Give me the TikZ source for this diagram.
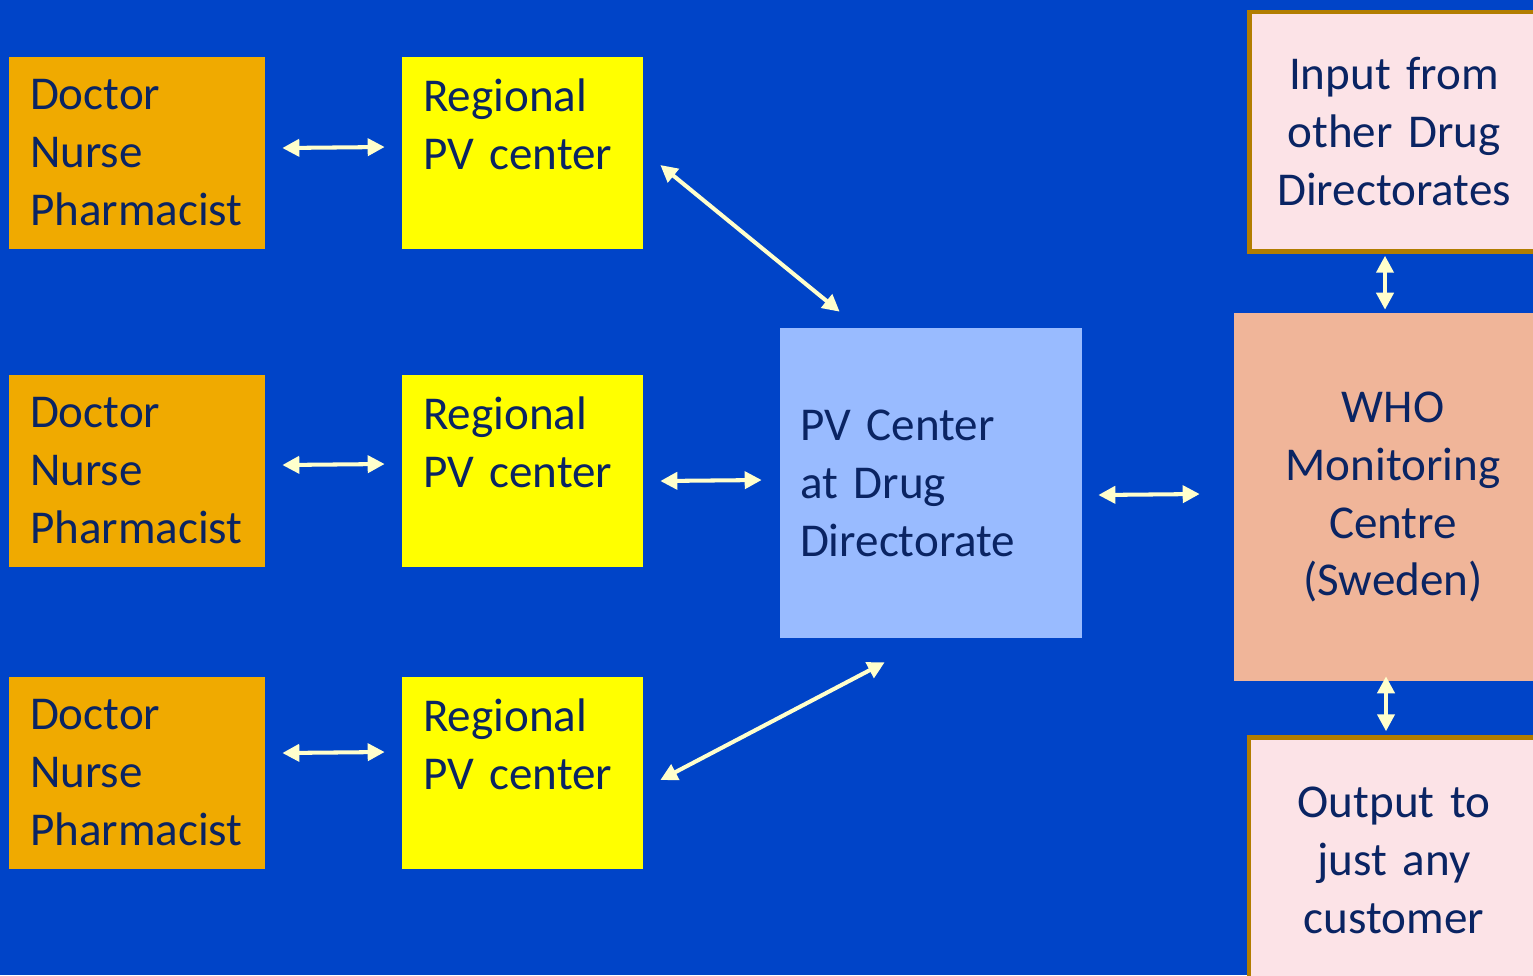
\documentclass[tikz,border=0pt]{standalone}
\usepackage{fontspec}
\setmainfont{Carlito}[WordSpace=0.75]
\usetikzlibrary{arrows.meta,calc}
\definecolor{slidebg}{HTML}{0044C8}
\definecolor{staffbg}{HTML}{F0AA00}
\definecolor{regionbg}{HTML}{FFFF00}
\definecolor{centerbg}{HTML}{99BBFF}
\definecolor{whobg}{HTML}{F0B599}
\definecolor{iobg}{HTML}{FCE3E7}
\definecolor{ioborder}{HTML}{B27D00}
\definecolor{navy}{HTML}{0A2463}
\definecolor{linkcol}{HTML}{FFFFCC}
\begin{document}
\begin{tikzpicture}[x=0.02cm,y=-0.02cm,
  every node/.style={font=\fontsize{26.8}{33}\selectfont, text=navy, inner sep=0pt},
  staff/.style={fill=staffbg, minimum width=5.12cm, minimum height=3.84cm, text width=4.28cm, align=left},
  region/.style={fill=regionbg, minimum width=4.82cm, minimum height=3.84cm, text width=3.98cm, align=left},
  link/.style={draw=linkcol, line width=2.3pt, {Triangle[length=0.34cm,width=0.34cm]}-{Triangle[length=0.34cm,width=0.34cm]}}
]
\clip (0,0) rectangle (1533,975);
\fill[slidebg] (0,0) rectangle (1533,975);

% reporters and regional centers
\node[staff] (doc1) at (137,153) {Doctor\\Nurse\\Pharmacist};
\node[staff] (doc2) at (137,471) {Doctor\\Nurse\\Pharmacist};
\node[staff] (doc3) at (137,773) {Doctor\\Nurse\\Pharmacist};
\node[region] (reg1) at (522.5,153) {Regional\\PV center\\\vphantom{Pharmacist}};
\node[region] (reg2) at (522.5,471) {Regional\\PV center\\\vphantom{Pharmacist}};
\node[region] (reg3) at (522.5,773) {Regional\\PV center\\\vphantom{Pharmacist}};

% national center
\node[fill=centerbg, minimum width=6.04cm, minimum height=6.2cm, text width=5.24cm, align=left] (pvc) at (931,483)
  {PV Center\\at Drug\\Directorate};

% WHO and its input / output
\node[fill=whobg, minimum width=6.36cm, minimum height=7.36cm, text width=5.8cm, align=center] (who) at (1393,497)
  {WHO\\Monitoring\\Centre\\(Sweden)};
\node[fill=iobg, draw=ioborder, line width=0.09cm, minimum width=5.79cm, minimum height=4.79cm, text width=5.5cm, align=center] (input) at (1394,131.75)
  {Input from\\other Drug\\Directorates};
\node[fill=iobg, draw=ioborder, line width=0.09cm, minimum width=5.8cm, minimum height=4.9cm, text width=5.5cm, align=center] (output) at (1394,860)
  {Output to\\just any\\customer};

% connectors
\draw[link] ($(doc1.east)+(17,-5)$) -- ($(reg1.west)+(-17,-6)$);
\draw[link] ($(doc2.east)+(17,-6)$) -- ($(reg2.west)+(-17,-7)$);
\draw[link] ($(doc3.east)+(17,-20)$) -- ($(reg3.west)+(-17,-21)$);
\draw[link] ($(reg1.east)+(17,12)$) -- ($(pvc.north west)+(60,-16)$);
\draw[link] ($(reg2.east)+(17,10)$) -- ($(pvc.west)+(-18,-3)$);
\draw[link] ($(reg3.east)+(17,7)$) -- ($(pvc.south west)+(105,24)$);
\draw[link] ($(pvc.east)+(16,12)$) -- ($(who.west)+(-34,-3)$);
\draw[link] ($(input.south)+(-9,2)$) -- ($(who.north)+(-8,-3)$);
\draw[link] ($(who.south)+(-7,-5)$) -- ($(output.north)+(-8,-4)$);
\end{tikzpicture}
\end{document}
